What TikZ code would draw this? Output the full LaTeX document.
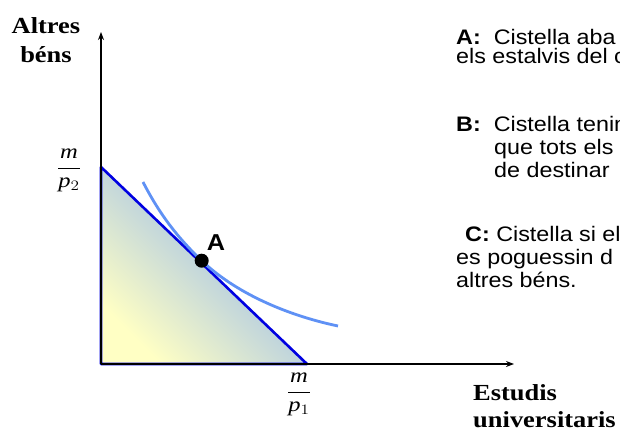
\documentclass[tikz,border=0pt]{standalone}
\usepackage{fontspec}
\setmainfont{Liberation Serif}
\newfontfamily\arialfont{Liberation Sans}
\usetikzlibrary{arrows.meta}
\definecolor{budgetblue}{RGB}{0,0,225}
\definecolor{curveblue}{RGB}{95,145,245}
\definecolor{fillyellow}{RGB}{255,255,196}
\definecolor{fillblue}{RGB}{182,206,224}
\begin{document}
\begin{tikzpicture}[x=1pt,y=-1pt,
  axisline/.style={line width=1.7pt,black,-{Stealth[length=8pt,width=6pt]}},
  budget/.style={draw=budgetblue,line width=2.6pt,line join=round},
  indiff/.style={draw=curveblue,line width=2.8pt},
  dotnode/.style={circle,fill=black,inner sep=0pt,minimum size=14pt},
  seriflabel/.style={font=\bfseries\fontsize{23}{27}\selectfont,xscale=1.15,transform shape,inner sep=0pt},
  fraclabel/.style={font=\fontsize{20.5}{24}\selectfont,xscale=1.2,transform shape,inner sep=0pt,anchor=base},
  sanstext/.style={font=\arialfont\fontsize{21}{25}\selectfont,xscale=1.11,transform shape,inner sep=0pt,anchor=base west},
  ptlabel/.style={font=\arialfont\bfseries\fontsize{23}{27}\selectfont,xscale=1.1,transform shape,inner sep=0pt}
]
\useasboundingbox (0,0) rectangle (620,433);
\clip (0,0) rectangle (620,433);
\fill[white] (0,0) rectangle (620,433);
% key points
\coordinate (O) at (101,364);
\coordinate (P2) at (101,167);
\coordinate (P1) at (307,364);
\coordinate (Yend) at (101,32);
\coordinate (Xend) at (514,364);
\coordinate (A) at (201.7,260.7);
\coordinate (Cs) at (143,182);
\coordinate (Ce) at (338,326);
% budget set
\path[shade,bottom color=fillyellow,top color=fillblue,middle color=fillblue!85!fillyellow,shading angle=-45] (O) -- (P2) -- (P1) -- cycle;
\draw[budget] (O) -- (P2) -- (P1) -- cycle;
% indifference curve
\draw[indiff] (Cs) .. controls (160,215) and (178,238) .. (A) .. controls (240,297) and (295,317) .. (Ce);
% axes
\draw[axisline] (O) -- (Yend);
\draw[axisline] (O) -- (Xend);
% point A
\node[dotnode] (dotA) at (A) {};
\node[ptlabel] (labA) at (216,243) {A};
% axis labels
\node[seriflabel,anchor=base] (yl1) at (46,34) {Altres};
\node[seriflabel,anchor=base] (yl2) at (46,63) {béns};
\node[seriflabel,anchor=base west] (xl1) at (473,400) {Estudis};
\node[seriflabel,anchor=base west] (xl2) at (473,427) {universitaris};
% fractions
\node[fraclabel] (fp2) at (69,173) {$\displaystyle\frac{\mathit{m}}{\mathit{p}_{2}}$};
\node[fraclabel] (fp1) at (299,397) {$\displaystyle\frac{\mathit{m}}{\mathit{p}_{1}}$};
% text on the right
\node[sanstext] (ta1) at (456,45) {\textbf{A:}\ \ Cistella aba};
\node[sanstext] (ta2) at (456,64) {els estalvis del c};
\node[sanstext] (tb1) at (456,131.5) {\textbf{B:}\ \ Cistella tenin};
\node[sanstext] (tb2) at (494,154.5) {que tots els};
\node[sanstext] (tb3) at (494,177) {de destinar};
\node[sanstext] (tc1) at (465,241.5) {\textbf{C:} Cistella si el};
\node[sanstext] (tc2) at (456,264.5) {es poguessin d};
\node[sanstext] (tc3) at (456,287) {altres béns.};
\end{tikzpicture}
\end{document}
